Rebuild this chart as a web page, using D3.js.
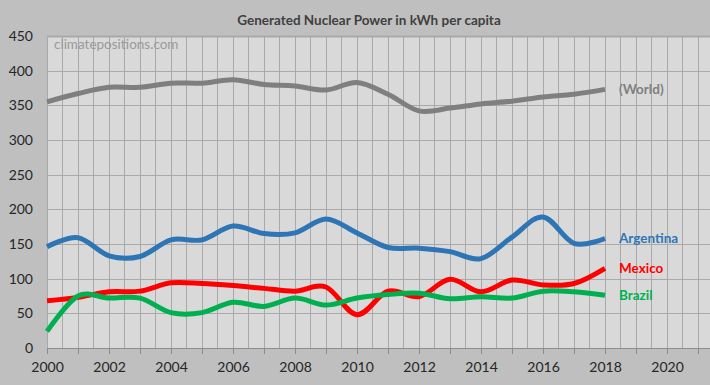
<!DOCTYPE html>
<html>
<head>
<meta charset="utf-8">
<script src="https://cdn.jsdelivr.net/npm/d3@7"></script>
<style>
  html, body { margin: 0; padding: 0; background: #bfbfbf; }
  svg { display: block; }
</style>
</head>
<body>
<div id="chart"></div>
<script>
const years = d3.range(2000, 2019)
const world = [355, 367, 376, 376, 382, 382, 387, 380, 378, 372, 383, 366, 342, 346, 352, 356, 362, 366, 373]
const argentina = [146, 159, 133, 132, 156, 156, 176, 165, 166, 186, 166, 145, 144, 139, 129, 160, 189, 151, 158]
const mexico = [68, 73, 81, 82, 94, 93, 90, 86, 82, 88, 48, 82, 74, 99, 81, 98, 91, 93, 115]
const brazil = [24, 75, 72, 72, 51, 51, 66, 60, 72, 62, 72, 77, 79, 71, 74, 72, 82, 81, 76]
const yTicks = d3.range(0, 451, 50)
const xTicks = d3.range(2000, 2021, 2)

const seriesList = [
  { name: '(World)', values: world, color: '#7f7f7f' },
  { name: 'Argentina', values: argentina, color: '#2e75b6' },
  { name: 'Mexico', values: mexico, color: '#ff0000' },
  { name: 'Brazil', values: brazil, color: '#00b050' }
]

const W = 710
const H = 385
const margin = { top: 36, left: 47, right: 0, bottom: 37 }
const width = W - margin.left - margin.right
const height = H - margin.top - margin.bottom

const svg = d3
  .select('#chart')
  .append('svg')
  .attr('width', W)
  .attr('height', H)

svg.append('rect').attr('width', W).attr('height', H).attr('fill', '#bfbfbf')

const g = svg
  .append('g')
  .attr('transform', 'translate(' + margin.left + ',' + margin.top + ')')

const xPositionScale = d3.scaleLinear().domain([2000, 2000 + width / 31]).range([0, width])
const yPositionScale = d3.scaleLinear().domain([0, 450]).range([height, 0])

g.append('rect').attr('width', width).attr('height', height).attr('fill', '#d9d9d9')

// half-year vertical grid
g.selectAll('.vgrid')
  .data(d3.range(2000, 2000 + width / 31, 0.5))
  .enter()
  .append('line')
  .attr('class', 'vgrid')
  .attr('x1', d => Math.round(xPositionScale(d)) + 0.5)
  .attr('x2', d => Math.round(xPositionScale(d)) + 0.5)
  .attr('y1', 0)
  .attr('y2', height)
  .attr('stroke', '#a9a9a9')
  .attr('stroke-width', 1)

g.selectAll('.hgrid')
  .data(yTicks)
  .enter()
  .append('line')
  .attr('class', 'hgrid')
  .attr('x1', 0)
  .attr('x2', width)
  .attr('y1', d => Math.round(yPositionScale(d)) + 0.5)
  .attr('y2', d => Math.round(yPositionScale(d)) + 0.5)
  .attr('stroke', '#a9a9a9')
  .attr('stroke-width', d => (d === 450 ? 2 : 1))

// x axis
const xAxis = d3
  .axisBottom(xPositionScale)
  .tickValues(d3.range(2000, 2022, 1))
  .tickSize(6)
  .tickFormat(d => (xTicks.includes(d) ? d : ''))
g.append('g')
  .attr('class', 'x-axis')
  .attr('transform', 'translate(0,' + height + ')')
  .call(xAxis)
  .call(ax => ax.select('.domain').remove())
  .call(ax => ax.selectAll('line').attr('stroke', '#8c8c8c'))
  .call(ax =>
    ax
      .selectAll('text')
      .attr('dy', 0)
      .attr('y', 24)
      .attr('fill', '#262626')
      .attr('font-family', 'Lato, sans-serif')
      .attr('font-size', 14)
  )
g.append('line')
  .attr('x1', 0)
  .attr('x2', width)
  .attr('y1', height + 0.5)
  .attr('y2', height + 0.5)
  .attr('stroke', '#8c8c8c')

// y axis
const yAxis = d3.axisLeft(yPositionScale).tickValues(yTicks).tickSize(0).tickPadding(14)
g.append('g')
  .attr('class', 'y-axis')
  .call(yAxis)
  .call(ax => ax.select('.domain').remove())
  .call(ax =>
    ax
      .selectAll('text')
      .attr('fill', '#262626')
      .attr('font-family', 'Lato, sans-serif')
      .attr('font-size', 14)
  )

g.append('text')
  .attr('x', 7)
  .attr('y', 13)
  .attr('fill', '#9a9a9a')
  .attr('font-family', 'Lato, sans-serif')
  .attr('font-size', 13.5)
  .text('climatepositions.com')

const line = d3
  .line()
  .x((d, i) => xPositionScale(years[i]))
  .y(d => yPositionScale(d))
  .curve(d3.curveCardinal.tension(0))

g.selectAll('.series')
  .data(seriesList)
  .enter()
  .append('path')
  .attr('class', 'series')
  .attr('d', d => line(d.values))
  .attr('fill', 'none')
  .attr('stroke', d => d.color)
  .attr('stroke-width', 5)
  .attr('stroke-linejoin', 'round')

g.selectAll('.label')
  .data(seriesList)
  .enter()
  .append('text')
  .attr('class', 'label')
  .attr('x', xPositionScale(2018) + 14)
  .attr('y', d => yPositionScale(d.values[d.values.length - 1]))
  .attr('dy', '0.35em')
  .attr('fill', d => d.color)
  .attr('font-family', 'Lato, sans-serif')
  .attr('font-weight', 'bold')
  .attr('font-size', 13.5)
  .text(d => d.name)

svg.append('text')
  .attr('x', 369)
  .attr('y', 25)
  .attr('text-anchor', 'middle')
  .attr('fill', '#404040')
  .attr('font-family', 'Lato, sans-serif')
  .attr('font-weight', 'bold')
  .attr('font-size', 13.5)
  .text('Generated Nuclear Power in kWh per capita')
</script>
</body>
</html>
